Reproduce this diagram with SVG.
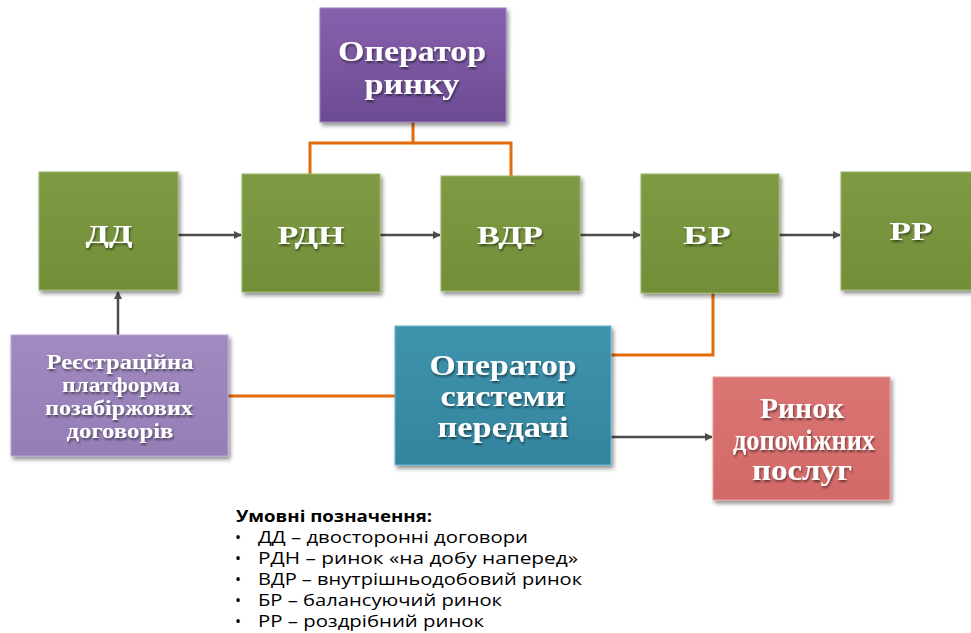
<svg xmlns="http://www.w3.org/2000/svg" width="971" height="633" viewBox="0 0 971 633">
<style>
.nt{font-family:"Liberation Serif","Times New Roman",serif;font-weight:bold;fill:#fff;text-anchor:middle}
.lg{font-family:"Open Sans","Liberation Sans",sans-serif;font-size:16px;fill:#000}
.or{stroke:#E36C0A;stroke-width:3;fill:none}
.gr{stroke:#4D4D4D;stroke-width:2.5;fill:none;marker-end:url(#ah)}
</style>
<defs>
<filter id="sh" x="-10%" y="-10%" width="125%" height="125%">
<feGaussianBlur in="SourceAlpha" stdDeviation="2"/>
<feOffset dx="2" dy="3" result="b"/>
<feComponentTransfer><feFuncA type="linear" slope="0.45"/></feComponentTransfer>
<feMerge><feMergeNode/><feMergeNode in="SourceGraphic"/></feMerge>
</filter>
<filter id="ts"><feGaussianBlur in="SourceAlpha" stdDeviation="1"/><feOffset dx="1" dy="2"/><feComponentTransfer><feFuncA type="linear" slope="0.5"/></feComponentTransfer><feMerge><feMergeNode/><feMergeNode in="SourceGraphic"/></feMerge></filter>
<marker id="ah" markerWidth="8" markerHeight="8" refX="7" refY="4" orient="auto" markerUnits="userSpaceOnUse">
<path d="M0,0 L8,4 L0,8 z" fill="#4D4D4D"/>
</marker>
<linearGradient id="gG" x1="0" y1="0" x2="0" y2="1"><stop offset="0" stop-color="#7E9A44"/><stop offset="1" stop-color="#728E38"/></linearGradient>
<linearGradient id="gP" x1="0" y1="0" x2="0" y2="1"><stop offset="0" stop-color="#8760AE"/><stop offset="1" stop-color="#6C4C92"/></linearGradient>
<linearGradient id="gL" x1="0" y1="0" x2="0" y2="1"><stop offset="0" stop-color="#A08ABF"/><stop offset="1" stop-color="#957DB6"/></linearGradient>
<linearGradient id="gT" x1="0" y1="0" x2="0" y2="1"><stop offset="0" stop-color="#3F93AD"/><stop offset="1" stop-color="#34849E"/></linearGradient>
<linearGradient id="gR" x1="0" y1="0" x2="0" y2="1"><stop offset="0" stop-color="#DA7573"/><stop offset="1" stop-color="#D26A68"/></linearGradient>
</defs>

<g id="connectors">
<polyline class="or" points="413,122 413,143 310,143 310,174"/>
<polyline class="or" points="413,143 511,143 511,176"/>
<polyline class="or" points="713,293 713,355 611,355"/>
<line class="or" x1="228" y1="396" x2="395" y2="396"/>
<line class="gr" x1="178" y1="235" x2="241" y2="235"/>
<line class="gr" x1="380" y1="235" x2="440" y2="235"/>
<line class="gr" x1="580" y1="235" x2="640" y2="235"/>
<line class="gr" x1="779" y1="235" x2="840" y2="235"/>
<line class="gr" x1="118" y1="335" x2="118" y2="292"/>
<line class="gr" x1="611" y1="437" x2="712" y2="437"/>
</g>

<g id="operator-rynku" filter="url(#sh)">
<rect x="320" y="8" width="186" height="114" fill="url(#gP)" stroke="#9B7EC0" stroke-width="1"/>
<text class="nt" font-size="30" x="412" y="61" textLength="148" lengthAdjust="spacingAndGlyphs" filter="url(#ts)">Оператор</text>
<text class="nt" font-size="30" x="412" y="94" textLength="95" lengthAdjust="spacingAndGlyphs" filter="url(#ts)">ринку</text>
</g>

<g id="dd" filter="url(#sh)">
<rect x="39" y="172" width="139" height="118" fill="url(#gG)" stroke="#9BB56A" stroke-width="1"/>
<text class="nt" font-size="25" x="109" y="243" textLength="47" lengthAdjust="spacingAndGlyphs" filter="url(#ts)">ДД</text>
</g>
<g id="rdn" filter="url(#sh)">
<rect x="242" y="174" width="138" height="118" fill="url(#gG)" stroke="#9BB56A" stroke-width="1"/>
<text class="nt" font-size="25" x="311" y="244" textLength="67" lengthAdjust="spacingAndGlyphs" filter="url(#ts)">РДН</text>
</g>
<g id="vdr" filter="url(#sh)">
<rect x="441" y="176" width="139" height="115" fill="url(#gG)" stroke="#9BB56A" stroke-width="1"/>
<text class="nt" font-size="25" x="510" y="244" textLength="66" lengthAdjust="spacingAndGlyphs" filter="url(#ts)">ВДР</text>
</g>
<g id="br" filter="url(#sh)">
<rect x="641" y="174" width="138" height="119" fill="url(#gG)" stroke="#9BB56A" stroke-width="1"/>
<text class="nt" font-size="25" x="707" y="244" textLength="48" lengthAdjust="spacingAndGlyphs" filter="url(#ts)">БР</text>
</g>
<g id="rr" filter="url(#sh)">
<rect x="841" y="172" width="140" height="118" fill="url(#gG)" stroke="#9BB56A" stroke-width="1"/>
<text class="nt" font-size="25" x="911" y="240" textLength="43" lengthAdjust="spacingAndGlyphs" filter="url(#ts)">РР</text>
</g>

<g id="reiestr" filter="url(#sh)">
<rect x="11" y="335" width="217" height="121" fill="url(#gL)" stroke="#B9A6D3" stroke-width="1"/>
<text class="nt" font-size="20" x="120" y="369" textLength="147" lengthAdjust="spacingAndGlyphs" filter="url(#ts)">Реєстраційна</text>
<text class="nt" font-size="20" x="121" y="392" textLength="118" lengthAdjust="spacingAndGlyphs" filter="url(#ts)">платформа</text>
<text class="nt" font-size="20" x="119" y="415" textLength="148" lengthAdjust="spacingAndGlyphs" filter="url(#ts)">позабіржових</text>
<text class="nt" font-size="20" x="120" y="438" textLength="107" lengthAdjust="spacingAndGlyphs" filter="url(#ts)">договорів</text>
</g>

<g id="osp" filter="url(#sh)">
<rect x="395" y="326" width="216" height="139" fill="url(#gT)" stroke="#6BB8D0" stroke-width="1"/>
<text class="nt" font-size="29" x="503" y="375" textLength="147" lengthAdjust="spacingAndGlyphs" filter="url(#ts)">Оператор</text>
<text class="nt" font-size="29" x="503" y="406" textLength="125" lengthAdjust="spacingAndGlyphs" filter="url(#ts)">системи</text>
<text class="nt" font-size="29" x="503" y="437" textLength="131" lengthAdjust="spacingAndGlyphs" filter="url(#ts)">передачі</text>
</g>

<g id="rdp" filter="url(#sh)">
<rect x="713" y="377" width="177" height="123" fill="url(#gR)" stroke="#E9A09E" stroke-width="1"/>
<text class="nt" font-size="29" x="802" y="418" textLength="84" lengthAdjust="spacingAndGlyphs" filter="url(#ts)">Ринок</text>
<text class="nt" font-size="29" x="804" y="450" textLength="142" lengthAdjust="spacingAndGlyphs" filter="url(#ts)">допоміжних</text>
<text class="nt" font-size="29" x="802" y="480" textLength="100" lengthAdjust="spacingAndGlyphs" filter="url(#ts)">послуг</text>
</g>

<g id="legend">
<text class="lg" x="236" y="522" font-weight="bold" textLength="196" lengthAdjust="spacingAndGlyphs">Умовні позначення:</text>
<text class="lg" x="235" y="543">•</text><text class="lg" x="258" y="543" textLength="270" lengthAdjust="spacingAndGlyphs">ДД – двосторонні договори</text>
<text class="lg" x="235" y="564">•</text><text class="lg" x="258" y="564" textLength="320" lengthAdjust="spacingAndGlyphs">РДН – ринок «на добу наперед»</text>
<text class="lg" x="235" y="585">•</text><text class="lg" x="258" y="585" textLength="324" lengthAdjust="spacingAndGlyphs">ВДР – внутрішньодобовий ринок</text>
<text class="lg" x="235" y="606">•</text><text class="lg" x="258" y="606" textLength="244" lengthAdjust="spacingAndGlyphs">БР – балансуючий ринок</text>
<text class="lg" x="235" y="627">•</text><text class="lg" x="258" y="627" textLength="226" lengthAdjust="spacingAndGlyphs">РР – роздрібний ринок</text>
</g>
</svg>
